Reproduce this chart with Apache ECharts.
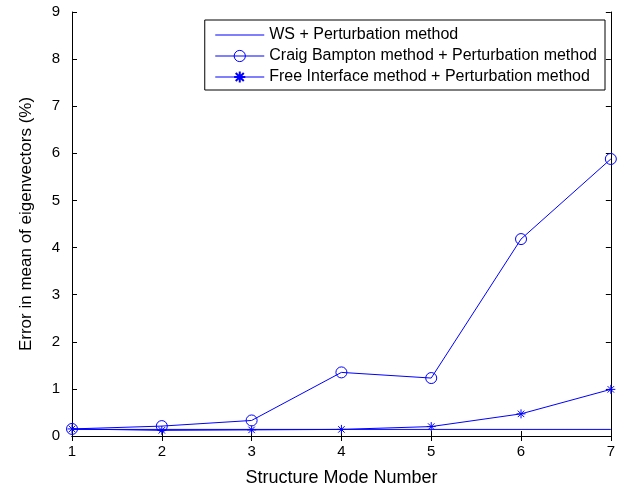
<!DOCTYPE html>
<html>
<head>
<meta charset="utf-8">
<script src="https://cdn.jsdelivr.net/npm/echarts@6/dist/echarts.min.js"></script>
<style>
  html, body { margin: 0; padding: 0; background: #fff; }
  #chart { width: 618px; height: 494px; }
</style>
</head>
<body>
<div id="chart"></div>
<script>
// structure mode numbers on the x axis
const modes = [1, 2, 3, 4, 5, 6, 7];
const wsValues = [0.14, 0.14, 0.14, 0.14, 0.14, 0.14, 0.14];
const craigValues = [0.15, 0.21, 0.33, 1.35, 1.23, 4.18, 5.88];
const freeValues = [0.15, 0.12, 0.13, 0.14, 0.2, 0.47, 0.99];
const seriesNames = [
  'WS + Perturbation method',
  'Craig Bampton method + Perturbation method',
  'Free Interface method + Perturbation method'
];

const font = 'Liberation Sans, Arial, sans-serif';
const blue = '#0000ff';
const asterisk = 'path://M0,-5L0,5M-5,0L5,0M-3.6,-3.6L3.6,3.6M-3.6,3.6L3.6,-3.6';

function pairs(vals) {
  return modes.map((m, i) => [m, vals[i]]);
}

const chart = echarts.init(document.getElementById('chart'));

const boxAxis = {
  axisLine: { show: true, lineStyle: { color: '#000', width: 1 } },
  axisTick: { show: true, inside: true, length: 5, lineStyle: { color: '#000' } },
  splitLine: { show: false }
};

chart.setOption({
  animation: false,
  backgroundColor: '#fff',
  grid: { left: 72, right: 6, top: 12, bottom: 58 },
  legend: {
    orient: 'vertical',
    right: 13,
    top: 20,
    backgroundColor: '#fff',
    borderColor: '#000',
    borderWidth: 1,
    borderRadius: 0,
    padding: [7, 8, 5, 10],
    itemGap: 5,
    itemWidth: 49,
    itemHeight: 14,
    lineStyle: { width: 1 },
    textStyle: { fontFamily: font, fontSize: 16, color: '#000' },
    data: [
      { name: seriesNames[0], itemStyle: { color: 'rgba(0,0,0,0)', borderWidth: 0 } },
      { name: seriesNames[1], itemStyle: { color: 'rgba(0,0,0,0)', borderColor: blue, borderWidth: 1 } },
      { name: seriesNames[2] }
    ]
  },
  xAxis: [
    Object.assign({
      type: 'value', min: 1, max: 7, interval: 1,
      name: 'Structure Mode Number', nameLocation: 'middle', nameGap: 33,
      nameTextStyle: { fontFamily: font, fontSize: 18, color: '#000' },
      axisLabel: { fontFamily: font, fontSize: 15, color: '#000', margin: 8 }
    }, boxAxis),
    Object.assign({
      type: 'value', min: 1, max: 7, interval: 1, position: 'top',
      axisLabel: { show: false }
    }, boxAxis)
  ],
  yAxis: [
    Object.assign({
      type: 'value', min: 0, max: 9, interval: 1,
      name: 'Error in mean of eigenvectors (%)', nameLocation: 'middle', nameGap: 37,
      nameTextStyle: { fontFamily: font, fontSize: 17, color: '#000' },
      axisLabel: { fontFamily: font, fontSize: 15, color: '#000', margin: 12 }
    }, boxAxis),
    Object.assign({
      type: 'value', min: 0, max: 9, interval: 1, position: 'right',
      axisLabel: { show: false }
    }, boxAxis)
  ],
  series: [
    {
      name: seriesNames[0], type: 'line', data: pairs(wsValues),
      showSymbol: false, symbol: 'none',
      lineStyle: { color: blue, width: 1 }, itemStyle: { color: blue }
    },
    {
      name: seriesNames[1], type: 'line', data: pairs(craigValues),
      symbol: 'circle', symbolSize: 11,
      lineStyle: { color: blue, width: 1 },
      itemStyle: { color: 'rgba(0,0,0,0)', borderColor: blue, borderWidth: 1 }
    },
    {
      name: seriesNames[2], type: 'line', data: pairs(freeValues),
      symbol: asterisk, symbolSize: 9,
      lineStyle: { color: blue, width: 1 },
      itemStyle: { color: blue, borderColor: blue, borderWidth: 1 }
    }
  ]
});
</script>
</body>
</html>
